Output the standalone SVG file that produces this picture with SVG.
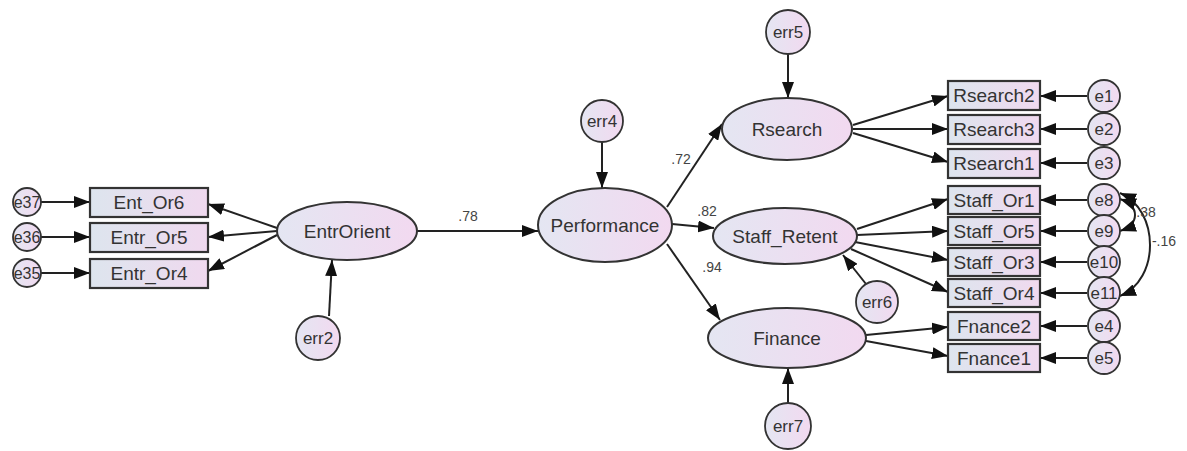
<svg xmlns="http://www.w3.org/2000/svg" width="1187" height="451" viewBox="0 0 1187 451">
<defs>
<linearGradient id="gE" x1="0" y1="0" x2="1" y2="0">
<stop offset="0" stop-color="#e4e6f2"/><stop offset="1" stop-color="#f2d9f0"/>
</linearGradient>
<linearGradient id="gB" x1="0" y1="0" x2="1" y2="0">
<stop offset="0" stop-color="#dde5ee"/><stop offset="1" stop-color="#f0d9ef"/>
</linearGradient>
<marker id="ah" markerUnits="userSpaceOnUse" markerWidth="17" markerHeight="12" refX="16" refY="6" orient="auto-start-reverse">
<path d="M0,0 L16,6 L0,12 z" fill="#111"/>
</marker>
</defs>
<style>
text{font-family:"Liberation Sans",Arial,sans-serif;fill:#333;text-anchor:middle}
.lat{fill:url(#gE);stroke:#333;stroke-width:2}
.obs{fill:url(#gB);stroke:#333;stroke-width:2.2}
.err{fill:url(#gE);stroke:#333;stroke-width:1.8}
.t19{font-size:19px}
.t17{font-size:17px}
.t16{font-size:16px}
.lbl{font-size:14px;fill:#444}
.c{fill:none;stroke:#222;stroke-width:2;marker-end:url(#ah)}
.cc{fill:none;stroke:#222;stroke-width:2;marker-start:url(#ah);marker-end:url(#ah)}
</style>
<rect width="1187" height="451" fill="#fff"/>
<g id="connectors">
<line class="c" x1="41" y1="202" x2="90" y2="202"/>
<line class="c" x1="41" y1="237" x2="90" y2="237"/>
<line class="c" x1="41" y1="273" x2="90" y2="273"/>
<line class="c" x1="277" y1="228" x2="208" y2="204"/>
<line class="c" x1="277" y1="231" x2="208" y2="237"/>
<line class="c" x1="277" y1="235" x2="208" y2="271"/>
<line class="c" x1="329" y1="316" x2="332" y2="260"/>
<line class="c" x1="417" y1="231" x2="538" y2="231"/>
<line class="c" x1="602" y1="142" x2="602" y2="188"/>
<line class="c" x1="667" y1="207" x2="722" y2="124"/>
<line class="c" x1="672" y1="224" x2="714" y2="228"/>
<line class="c" x1="667" y1="244" x2="720" y2="320"/>
<line class="c" x1="788" y1="54" x2="788" y2="98"/>
<line class="c" x1="853" y1="125" x2="948" y2="96"/>
<line class="c" x1="853" y1="129" x2="948" y2="129"/>
<line class="c" x1="853" y1="133" x2="948" y2="162"/>
<line class="c" x1="857" y1="229" x2="948" y2="199"/>
<line class="c" x1="857" y1="235" x2="948" y2="231"/>
<line class="c" x1="855" y1="242" x2="948" y2="260"/>
<line class="c" x1="851" y1="249" x2="948" y2="292"/>
<line class="c" x1="866" y1="284" x2="843" y2="255"/>
<line class="c" x1="866" y1="335" x2="948" y2="327"/>
<line class="c" x1="866" y1="341" x2="948" y2="356"/>
<line class="c" x1="788" y1="404" x2="788" y2="368"/>
<line class="c" x1="1087" y1="96" x2="1040" y2="96"/>
<line class="c" x1="1087" y1="129" x2="1040" y2="129"/>
<line class="c" x1="1087" y1="163" x2="1040" y2="163"/>
<line class="c" x1="1087" y1="200" x2="1040" y2="200"/>
<line class="c" x1="1087" y1="231" x2="1040" y2="231"/>
<line class="c" x1="1087" y1="262" x2="1040" y2="262"/>
<line class="c" x1="1087" y1="293" x2="1040" y2="293"/>
<line class="c" x1="1087" y1="326" x2="1040" y2="326"/>
<line class="c" x1="1087" y1="358" x2="1040" y2="358"/>
<path class="cc" d="M1120,193 C1160,210 1160,280 1120,296"/>
<path class="cc" d="M1120,199 C1140,206 1140,224 1120,231"/>
<text class="lbl" x="468" y="221">.78</text>
<text class="lbl" x="681" y="164">.72</text>
<text class="lbl" x="707" y="216">.82</text>
<text class="lbl" x="712" y="272">.94</text>
<text class="lbl" x="1146" y="217">.38</text>
<text class="lbl" x="1164" y="246">-.16</text>
</g>
<g id="e37"><circle class="err" cx="27" cy="202" r="14"/><text class="t16" x="27" y="208">e37</text></g>
<g id="e36"><circle class="err" cx="27" cy="237" r="14"/><text class="t16" x="27" y="243">e36</text></g>
<g id="e35"><circle class="err" cx="27" cy="273" r="14"/><text class="t16" x="27" y="279">e35</text></g>
<g id="Ent_Or6"><rect class="obs" x="90" y="188" width="118" height="29"/><text class="t19" x="149" y="209">Ent_Or6</text></g>
<g id="Entr_Or5"><rect class="obs" x="90" y="223" width="118" height="29"/><text class="t19" x="149" y="244">Entr_Or5</text></g>
<g id="Entr_Or4"><rect class="obs" x="90" y="259" width="118" height="29"/><text class="t19" x="149" y="280">Entr_Or4</text></g>
<g id="EntrOrient"><ellipse class="lat" cx="347" cy="231" rx="70" ry="29"/><text class="t19" x="347" y="238">EntrOrient</text></g>
<g id="err2"><circle class="err" cx="318" cy="338" r="22"/><text class="t17" x="318" y="344">err2</text></g>
<g id="Performance"><ellipse class="lat" cx="605" cy="225" rx="67" ry="37"/><text class="t19" x="605" y="232">Performance</text></g>
<g id="err4"><circle class="err" cx="602" cy="121" r="21"/><text class="t17" x="602" y="127">err4</text></g>
<g id="Rsearch"><ellipse class="lat" cx="787" cy="129" rx="65" ry="31"/><text class="t19" x="787" y="136">Rsearch</text></g>
<g id="err5"><circle class="err" cx="788" cy="32" r="22"/><text class="t17" x="788" y="38">err5</text></g>
<g id="Staff_Retent"><ellipse class="lat" cx="785" cy="236" rx="72" ry="28"/><text class="t19" x="785" y="243">Staff_Retent</text></g>
<g id="err6"><circle class="err" cx="877" cy="302" r="21"/><text class="t17" x="877" y="308">err6</text></g>
<g id="Finance"><ellipse class="lat" cx="787" cy="338" rx="79" ry="30"/><text class="t19" x="787" y="345">Finance</text></g>
<g id="err7"><circle class="err" cx="788" cy="426" r="23"/><text class="t17" x="788" y="432">err7</text></g>
<g id="Rsearch2"><rect class="obs" x="948" y="81" width="92" height="29"/><text class="t19" x="994" y="102">Rsearch2</text></g>
<g id="Rsearch3"><rect class="obs" x="948" y="115" width="92" height="29"/><text class="t19" x="994" y="136">Rsearch3</text></g>
<g id="Rsearch1"><rect class="obs" x="948" y="149" width="92" height="29"/><text class="t19" x="994" y="170">Rsearch1</text></g>
<g id="Staff_Or1"><rect class="obs" x="948" y="186" width="92" height="28"/><text class="t19" x="994" y="207">Staff_Or1</text></g>
<g id="Staff_Or5"><rect class="obs" x="948" y="217" width="92" height="28"/><text class="t19" x="994" y="238">Staff_Or5</text></g>
<g id="Staff_Or3"><rect class="obs" x="948" y="248" width="92" height="28"/><text class="t19" x="994" y="269">Staff_Or3</text></g>
<g id="Staff_Or4"><rect class="obs" x="948" y="279" width="92" height="28"/><text class="t19" x="994" y="300">Staff_Or4</text></g>
<g id="Fnance2"><rect class="obs" x="948" y="312" width="92" height="28"/><text class="t19" x="994" y="333">Fnance2</text></g>
<g id="Fnance1"><rect class="obs" x="948" y="344" width="92" height="28"/><text class="t19" x="994" y="365">Fnance1</text></g>
<g id="e1"><circle class="err" cx="1104" cy="96" r="16"/><text class="t17" x="1104" y="102">e1</text></g>
<g id="e2"><circle class="err" cx="1104" cy="129" r="16"/><text class="t17" x="1104" y="135">e2</text></g>
<g id="e3"><circle class="err" cx="1104" cy="163" r="16"/><text class="t17" x="1104" y="169">e3</text></g>
<g id="e8"><circle class="err" cx="1104" cy="200" r="16"/><text class="t17" x="1104" y="206">e8</text></g>
<g id="e9"><circle class="err" cx="1104" cy="231" r="16"/><text class="t17" x="1104" y="237">e9</text></g>
<g id="e10"><circle class="err" cx="1104" cy="262" r="16"/><text class="t17" x="1104" y="268">e10</text></g>
<g id="e11"><circle class="err" cx="1104" cy="293" r="16"/><text class="t17" x="1104" y="299">e11</text></g>
<g id="e4"><circle class="err" cx="1104" cy="326" r="16"/><text class="t17" x="1104" y="332">e4</text></g>
<g id="e5"><circle class="err" cx="1104" cy="358" r="16"/><text class="t17" x="1104" y="364">e5</text></g>
</svg>
